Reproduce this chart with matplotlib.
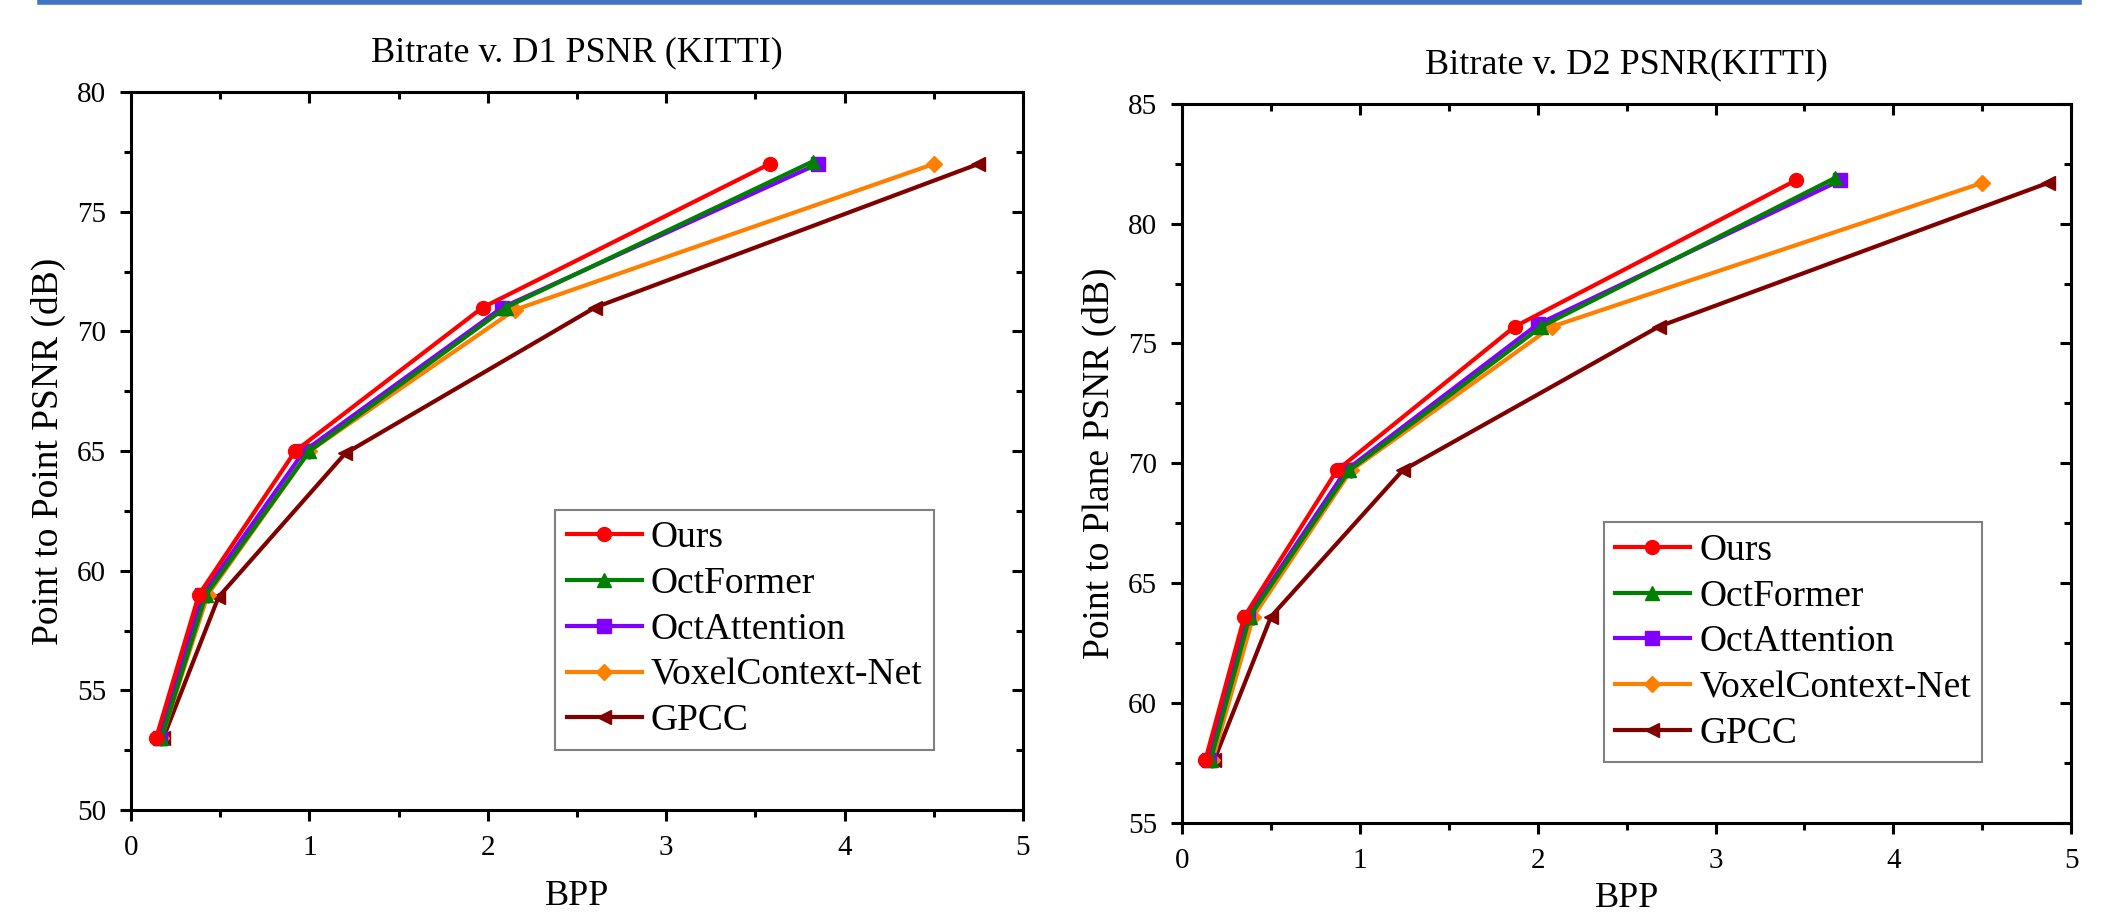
import matplotlib.pyplot as plt
from matplotlib.ticker import MultipleLocator
from matplotlib.lines import Line2D

plt.rcParams['font.family'] = ['Liberation Serif', 'DejaVu Serif']

methods = ['Ours', 'OctFormer', 'OctAttention', 'VoxelContext-Net', 'GPCC']
colors = ['#FF0000', '#008000', '#8000FF', '#FF8000', '#800000']
markers = ['o', '^', 's', 'D', '<']

# D1 (point to point)
d1_bpp = [
    [0.14, 0.38, 0.92, 1.97, 3.58],
    [0.17, 0.42, 1.00, 2.10, 3.82],
    [0.16, 0.40, 0.97, 2.08, 3.85],
    [0.17, 0.43, 1.00, 2.15, 4.50],
    [0.18, 0.49, 1.20, 2.60, 4.75],
]
d1_psnr = [
    [53.0, 59.0, 65.0, 71.0, 77.0],
    [53.0, 59.0, 65.0, 71.0, 77.1],
    [53.0, 59.0, 65.0, 71.0, 77.0],
    [53.0, 59.0, 65.0, 70.9, 77.0],
    [53.0, 58.9, 64.9, 71.0, 77.0],
]

# D2 (point to plane)
d2_bpp = [
    [0.13, 0.35, 0.87, 1.87, 3.45],
    [0.16, 0.38, 0.94, 2.02, 3.67],
    [0.15, 0.37, 0.92, 2.00, 3.70],
    [0.17, 0.40, 0.95, 2.08, 4.50],
    [0.18, 0.50, 1.24, 2.68, 4.87],
]
d2_psnr = [
    [57.6, 63.6, 69.7, 75.7, 81.8],
    [57.6, 63.6, 69.7, 75.7, 81.9],
    [57.6, 63.6, 69.7, 75.8, 81.8],
    [57.6, 63.6, 69.7, 75.7, 81.7],
    [57.6, 63.6, 69.7, 75.7, 81.7],
]


def style_axes(ax, ylim):
    ax.set_xlim(0, 5)
    ax.set_ylim(*ylim)
    ax.xaxis.set_major_locator(MultipleLocator(1))
    ax.xaxis.set_minor_locator(MultipleLocator(0.5))
    ax.yaxis.set_major_locator(MultipleLocator(5))
    ax.yaxis.set_minor_locator(MultipleLocator(2.5))
    for s in ax.spines.values():
        s.set_linewidth(2.2)
    ax.tick_params(which='major', direction='out', length=8, width=2.2,
                   labelsize=21, pad=10)
    ax.tick_params(which='minor', direction='out', length=5, width=2.2)
    # inward ticks on top and right, like Origin
    top = ax.secondary_xaxis('top')
    top.xaxis.set_major_locator(MultipleLocator(1))
    top.xaxis.set_minor_locator(MultipleLocator(0.5))
    top.tick_params(which='major', direction='in', length=8, width=2.2, labeltop=False)
    top.tick_params(which='minor', direction='in', length=5, width=2.2)
    right = ax.secondary_yaxis('right')
    right.yaxis.set_major_locator(MultipleLocator(5))
    right.yaxis.set_minor_locator(MultipleLocator(2.5))
    right.tick_params(which='major', direction='in', length=8, width=2.2, labelright=False)
    right.tick_params(which='minor', direction='in', length=5, width=2.2)


def draw(ax, xs, ys, title, ylabel, ylim, xlabelpad):
    for i in reversed(range(len(methods))):
        ax.plot(xs[i], ys[i], color=colors[i], marker=markers[i], lw=3,
                markersize=10 if markers[i] != 'D' else 8.5, label=methods[i])
    style_axes(ax, ylim)
    ax.set_title(title, fontsize=26, pad=22)
    ax.set_xlabel('BPP', fontsize=26, labelpad=xlabelpad)
    ax.set_ylabel(ylabel, fontsize=27, labelpad=8)
    h, l = ax.get_legend_handles_labels()
    leg = ax.legend(h[::-1], l[::-1], loc='lower right', bbox_to_anchor=(0.9, 0.084),
                    borderaxespad=0, fontsize=27, fancybox=False, framealpha=1,
                    edgecolor='#808080', handlelength=2.0, handletextpad=0.25,
                    labelspacing=0.3, borderpad=0.3)
    leg.get_frame().set_linewidth(1.5)


fig = plt.figure(figsize=(21.11, 9.18), dpi=100)
ax1 = fig.add_axes([0.0621, 0.1176, 0.4225, 0.782])
ax2 = fig.add_axes([0.5600, 0.1039, 0.4211, 0.783])

draw(ax1, d1_bpp, d1_psnr, 'Bitrate v. D1 PSNR (KITTI)', 'Point to Point PSNR (dB)', (50, 80), 14)
draw(ax2, d2_bpp, d2_psnr, 'Bitrate v. D2 PSNR(KITTI)', 'Point to Plane PSNR (dB)', (55, 85), 6)

# blue rule along the top edge
fig.add_artist(Line2D([0.019, 0.985], [0.998, 0.998], transform=fig.transFigure,
                      color='#4472C4', lw=4))

fig.savefig('out.png', dpi=100)
